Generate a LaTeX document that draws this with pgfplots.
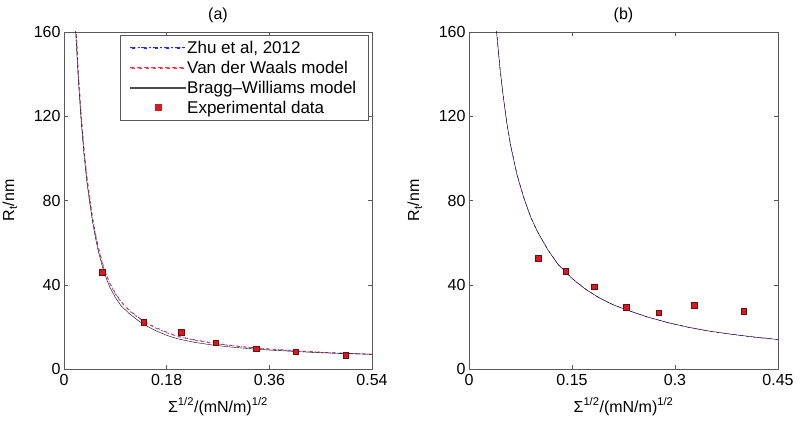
\documentclass[border=0pt]{standalone}
\usepackage{pgfplots}
\pgfplotsset{compat=1.18}
\usepackage{fontspec}
\setmainfont{Liberation Sans}

\definecolor{zhublue}{rgb}{0.1,0.2,0.85}
\definecolor{vdwred}{rgb}{1,0.2,0.25}
\definecolor{expred}{rgb}{0.85,0.1,0.12}
\definecolor{axgray}{rgb}{0.35,0.35,0.35}

\pgfplotsset{
  mystyle/.style={
    scale only axis,
    height=337pt,
    ymin=0, ymax=160,
    ytick={0,40,80,120,160},
    tick align=inside,
    major tick length=4pt,
    axis line style={axgray},
    every tick/.style={axgray},
    font=\fontsize{16pt}{19pt}\selectfont,
    /pgf/number format/assume math mode=true,
    ylabel={R\textsubscript{t}/nm},
    xlabel={Σ\textsuperscript{1/2}/(mN/m)\textsuperscript{1/2}},
    ylabel style={yshift=10pt},
    xlabel style={yshift=-5pt},
    xticklabel style={yshift=-2pt},
    clip=true,
  },
}

\begin{document}
\begin{tikzpicture}
\path[use as bounding box] (0,0) rectangle (800pt,424pt);

% panel (a)
\begin{axis}[mystyle,
  at={(64pt,55pt)}, anchor=south west,
  width=308pt,
  xmin=0, xmax=0.54,
  xtick={0,0.18,0.36,0.54},
  xticklabels={0,0.18,0.36,0.54},
  title={(a)},
  legend style={at={(1,1)}, xshift=-4pt, yshift=-3pt, anchor=north east,
    draw=axgray, inner xsep=10pt, inner ysep=4pt, row sep=3.2pt,
    nodes={inner sep=1.5pt},
    font=\fontsize{17pt}{19pt}\selectfont,
    legend cell align=left},
]
\addplot[zhublue, dash dot, line width=0.7pt,
  legend image code/.code={\fill[zhublue] (0pt,-0.6pt) rectangle (5pt,0.6pt) (7.5pt,-0.6pt) rectangle (8.7pt,0.6pt)
    (11.2pt,-0.6pt) rectangle (16.2pt,0.6pt) (18.7pt,-0.6pt) rectangle (19.9pt,0.6pt)
    (22.4pt,-0.6pt) rectangle (27.4pt,0.6pt) (29.9pt,-0.6pt) rectangle (31.1pt,0.6pt)
    (33.6pt,-0.6pt) rectangle (38.6pt,0.6pt) (41.1pt,-0.6pt) rectangle (42.3pt,0.6pt)
    (44.8pt,-0.6pt) rectangle (49.8pt,0.6pt) (52.3pt,-0.6pt) rectangle (53.5pt,0.6pt);}] coordinates {
 (0.021,162) (0.025,140) (0.030,120) (0.035,104) (0.040,91) (0.045,81)
 (0.050,72) (0.055,64.5) (0.060,58) (0.070,48) (0.080,41) (0.090,36)
 (0.100,32) (0.115,27.8) (0.130,24.6) (0.145,22) (0.160,19.8) (0.180,17.5)
 (0.200,15.4) (0.230,13.8) (0.260,12.4) (0.290,11.3) (0.320,10.4)
 (0.360,9.5) (0.400,8.8) (0.450,8.0) (0.500,7.4) (0.540,7.0)
};
\addlegendentry{Zhu et al, 2012}
\addplot[vdwred, dashed, line width=0.7pt,
  legend image code/.code={\fill[vdwred] (0pt,-0.6pt) rectangle (4pt,0.6pt) (7pt,-0.6pt) rectangle (11pt,0.6pt)
    (14pt,-0.6pt) rectangle (18pt,0.6pt) (21pt,-0.6pt) rectangle (25pt,0.6pt)
    (28pt,-0.6pt) rectangle (32pt,0.6pt) (35pt,-0.6pt) rectangle (39pt,0.6pt)
    (42pt,-0.6pt) rectangle (46pt,0.6pt) (49pt,-0.6pt) rectangle (53pt,0.6pt);}] coordinates {
 (0.0215,162) (0.0255,140) (0.0305,120) (0.0355,104) (0.0405,91) (0.0455,81)
 (0.050,71.5) (0.055,64) (0.060,57.5) (0.070,47.5) (0.080,40.6) (0.090,35.6)
 (0.100,31.7) (0.115,27.5) (0.130,24.3) (0.145,21.7) (0.160,19.5) (0.180,17.2)
 (0.200,15.4) (0.230,13.6) (0.260,12.2) (0.290,11.2) (0.320,10.3)
 (0.360,9.4) (0.400,8.7) (0.450,7.9) (0.500,7.3) (0.540,7.0)
};
\addlegendentry{Van der Waals model}
\addplot[black, thin,
  legend image code/.code={\fill[black!70] (0pt,-0.5pt) rectangle (55pt,0.5pt);}] coordinates {
 (0.020,162) (0.025,138) (0.030,118) (0.035,102) (0.040,89) (0.045,79)
 (0.050,70) (0.055,62.5) (0.060,56) (0.070,46) (0.080,39) (0.090,34)
 (0.100,30) (0.115,26.2) (0.130,23) (0.145,20.4) (0.160,18.3) (0.180,16)
 (0.200,14.3) (0.230,12.6) (0.260,11.4) (0.290,10.5) (0.320,9.8)
 (0.360,9.0) (0.400,8.4) (0.450,7.7) (0.500,7.3) (0.540,7.0)
};
\addlegendentry{Bragg--Williams model}
\addplot[only marks, mark=square*, mark size=2.8pt,
  mark options={fill=expred, draw=expred!50!black, line width=0.4pt},
  legend image code/.code={\fill[expred] (24.5pt,-2.5pt) rectangle (30.5pt,3.5pt);}]
 coordinates {
 (0.0666,46.1) (0.140,22.3) (0.205,17.4) (0.266,12.5) (0.337,9.6)
 (0.406,8.2) (0.494,6.5)
};
\addlegendentry{Experimental data}
\end{axis}

% panel (b)
\begin{axis}[mystyle,
  at={(469pt,55pt)}, anchor=south west,
  width=309pt,
  xmin=0, xmax=0.45,
  xtick={0,0.15,0.3,0.45},
  xticklabels={0,0.15,0.3,0.45},
  title={(b)},
]
\addplot[zhublue, dash dot, thin] coordinates {
 (0.040,161) (0.045,143.5) (0.050,129.5) (0.055,117.5) (0.060,107.5)
 (0.070,92.3) (0.080,81.2) (0.090,72.2) (0.100,65.2) (0.115,56.6)
 (0.130,49.6) (0.150,43.1) (0.170,37.9) (0.190,33.8) (0.210,30.5)
 (0.230,28) (0.260,24.6) (0.290,21.9) (0.320,19.7) (0.350,17.9)
 (0.380,16.5) (0.410,15.2) (0.450,13.9)
};
\addplot[vdwred, dashed, thin] coordinates {
 (0.040,160.5) (0.045,143) (0.050,129) (0.055,117) (0.060,107)
 (0.070,92) (0.080,81) (0.090,72) (0.100,65) (0.115,56.5)
 (0.130,49.5) (0.150,43) (0.170,37.8) (0.190,33.7) (0.210,30.5)
 (0.230,28) (0.260,24.7) (0.290,22) (0.320,19.8) (0.350,18)
 (0.380,16.6) (0.410,15.4) (0.450,14)
};
\addplot[black!75!blue, thin] coordinates {
 (0.040,160.5) (0.045,143) (0.050,129) (0.055,117) (0.060,107)
 (0.070,92) (0.080,81) (0.090,72) (0.100,65) (0.115,56.5)
 (0.130,49.5) (0.150,43) (0.170,37.8) (0.190,33.7) (0.210,30.5)
 (0.230,28) (0.260,24.7) (0.290,22) (0.320,19.8) (0.350,18)
 (0.380,16.6) (0.410,15.4) (0.450,14)
};
\addplot[only marks, mark=square*, mark size=2.8pt,
  mark options={fill=expred, draw=expred!50!black, line width=0.4pt}]
 coordinates {
 (0.101,52.7) (0.141,46.4) (0.182,39.1) (0.229,29.4) (0.276,26.7)
 (0.328,30.2) (0.400,27.4)
};
\end{axis}
\end{tikzpicture}
\end{document}
